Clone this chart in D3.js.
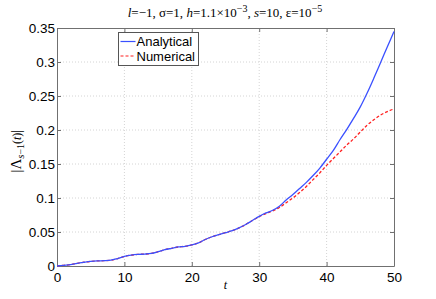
<html>
<head>
<script src="https://d3js.org/d3.v7.min.js"></script>
<style>
  html, body { margin: 0; padding: 0; background: #fff; }
  .tick text { font-family: "Liberation Sans", Arial, sans-serif; font-size: 13.5px; fill: #000; }
  .serif { font-family: "Liberation Serif", "Times New Roman", serif; }
</style>
</head>
<body>
<div id="chart"></div>
<script>
// time axis
const tValues = d3.range(0, 51);
const analytical = [0, 0.001, 0.002, 0.004, 0.0055, 0.0068, 0.0075, 0.0078, 0.0085, 0.011,
  0.014, 0.016, 0.017, 0.0175, 0.0185, 0.021, 0.024, 0.026, 0.028, 0.029,
  0.031, 0.034, 0.039, 0.043, 0.046, 0.049, 0.052, 0.056, 0.061, 0.067,
  0.073, 0.078, 0.082, 0.088, 0.097, 0.105, 0.114, 0.123, 0.133, 0.144,
  0.157, 0.170, 0.186, 0.201, 0.217, 0.234, 0.254, 0.276, 0.299, 0.322, 0.345];
const numerical = [0, 0.001, 0.002, 0.004, 0.0055, 0.0068, 0.0075, 0.0078, 0.0085, 0.011,
  0.014, 0.016, 0.017, 0.0175, 0.0185, 0.021, 0.024, 0.026, 0.028, 0.029,
  0.031, 0.034, 0.039, 0.043, 0.046, 0.049, 0.052, 0.056, 0.061, 0.067,
  0.0725, 0.077, 0.081, 0.086, 0.093, 0.100, 0.108, 0.117, 0.127, 0.137,
  0.148, 0.158, 0.168, 0.178, 0.187, 0.197, 0.207, 0.215, 0.222, 0.227, 0.231];
const xTicks = [0, 10, 20, 30, 40, 50];
const yTicks = [0, 0.05, 0.1, 0.15, 0.2, 0.25, 0.3, 0.35];
const seriesNames = ["Analytical", "Numerical"];

const W = 436, H = 299;
const margin = {top: 28, right: 42, bottom: 33, left: 57};
const width = W - margin.left - margin.right,
      height = H - margin.top - margin.bottom;

const svg = d3.select("#chart").append("svg")
    .attr("width", W).attr("height", H);
const g = svg.append("g")
    .attr("transform", "translate(" + margin.left + "," + margin.top + ")");

const x = d3.scaleLinear().domain([0, 50]).range([0, width]);
const y = d3.scaleLinear().domain([0, 0.35]).range([height, 0]);

// dotted grid
g.append("g").selectAll("line").data(xTicks.slice(1, -1)).enter().append("line")
    .attr("x1", d => x(d)).attr("x2", d => x(d))
    .attr("y1", 0).attr("y2", height)
    .attr("stroke", "#d4d4d4").attr("stroke-dasharray", "1,2");
g.append("g").selectAll("line").data(yTicks.slice(1, -1)).enter().append("line")
    .attr("y1", d => y(d)).attr("y2", d => y(d))
    .attr("x1", 0).attr("x2", width)
    .attr("stroke", "#d4d4d4").attr("stroke-dasharray", "1,2");

// axes with inward ticks on all sides
const fmt = d => d === 0 ? "0" : String(d);
g.append("g").attr("transform", "translate(0," + height + ")")
    .call(d3.axisBottom(x).tickValues(xTicks).tickSizeInner(-4).tickSizeOuter(0).tickPadding(6).tickFormat(fmt));
g.append("g")
    .call(d3.axisLeft(y).tickValues(yTicks).tickSizeInner(-4).tickSizeOuter(0).tickPadding(2).tickFormat(fmt));
g.append("g")
    .call(d3.axisTop(x).tickValues(xTicks).tickSizeInner(-4).tickSizeOuter(0).tickFormat(""));
g.append("g").attr("transform", "translate(" + width + ",0)")
    .call(d3.axisRight(y).tickValues(yTicks).tickSizeInner(-4).tickSizeOuter(0).tickFormat(""));
g.selectAll(".domain, .tick line").attr("stroke", "#707070");
g.selectAll(".tick text").attr("font-size", null).attr("font-family", null);

// lines
const line = d3.line().x((d, i) => x(tValues[i])).y(d => y(d)).curve(d3.curveMonotoneX);
g.append("path").datum(numerical)
    .attr("fill", "none").attr("stroke", "#ff2020").attr("stroke-width", 1.3)
    .attr("stroke-dasharray", "3,2").attr("d", line);
g.append("path").datum(analytical)
    .attr("fill", "none").attr("stroke", "#3a50ff").attr("stroke-width", 1.3)
    .attr("d", line);

// legend
const lg = svg.append("g").attr("transform", "translate(118.5,32.5)");
lg.append("rect").attr("width", 80).attr("height", 33)
    .attr("fill", "#fff").attr("stroke", "#555");
const styles = [{c: "#3a50ff", d: null}, {c: "#ff2020", d: "3,2"}];
seriesNames.forEach((name, i) => {
  const yy = 9 + i * 14.5;
  lg.append("line").attr("x1", 2).attr("x2", 17).attr("y1", yy).attr("y2", yy)
    .attr("stroke", styles[i].c).attr("stroke-width", 1.2).attr("stroke-dasharray", styles[i].d);
  lg.append("text").attr("x", 18).attr("y", yy + 4.5)
    .attr("font-family", "Liberation Sans, Arial, sans-serif").attr("font-size", 13)
    .text(name);
});

// title
const title = svg.append("text").attr("class", "serif").attr("x", 225).attr("y", 17)
    .attr("text-anchor", "middle").attr("font-size", 13);
title.append("tspan").attr("font-style", "italic").text("l");
title.append("tspan").text("=−1, σ=1, ");
title.append("tspan").attr("font-style", "italic").text("h");
title.append("tspan").text("=1.1×10");
title.append("tspan").attr("font-size", 10).attr("dy", -5).text("−3");
title.append("tspan").attr("dy", 5).text(", ");
title.append("tspan").attr("font-style", "italic").text("s");
title.append("tspan").text("=10, ε=10");
title.append("tspan").attr("font-size", 10).attr("dy", -5).text("−5");

// x label
svg.append("text").attr("class", "serif").attr("x", margin.left + width / 2).attr("y", 289)
    .attr("text-anchor", "middle").attr("font-size", 12).attr("font-style", "italic").text("t");

// y label
const yl = svg.append("text").attr("class", "serif")
    .attr("transform", "translate(21,151) rotate(-90)")
    .attr("text-anchor", "middle").attr("font-size", 15);
yl.append("tspan").text("|Λ");
yl.append("tspan").attr("font-size", 10).attr("dy", 3).attr("font-style", "italic").text("s");
yl.append("tspan").attr("font-size", 10).text("−1");
yl.append("tspan").attr("dy", -3).attr("font-size", 12).text("(");
yl.append("tspan").attr("font-size", 12).attr("font-style", "italic").text("t");
yl.append("tspan").attr("font-size", 12).text(")");
yl.append("tspan").text("|");
</script>
</body>
</html>
